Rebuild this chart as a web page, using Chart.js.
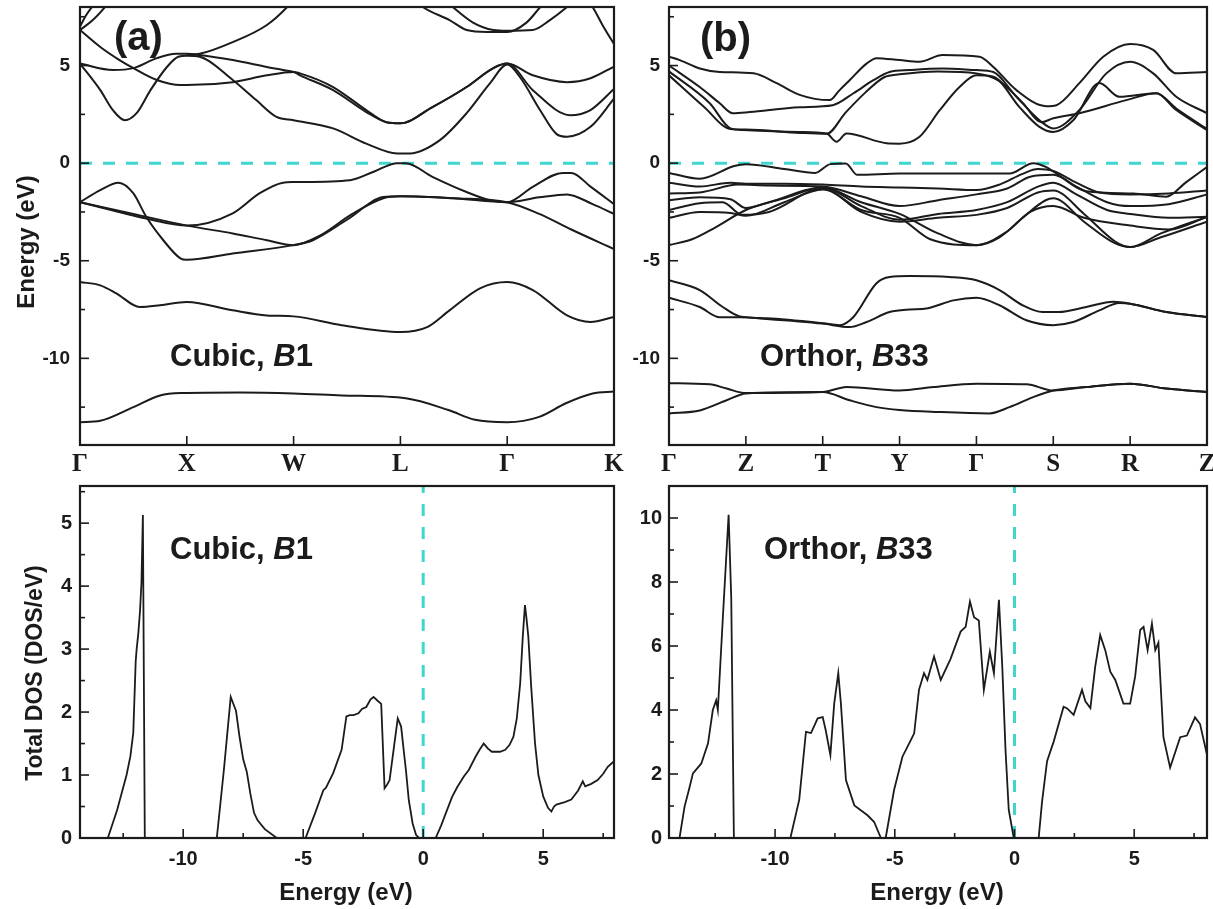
<!DOCTYPE html>
<html><head><meta charset="utf-8">
<script src="https://cdn.jsdelivr.net/npm/chart.js@4.4.1/dist/chart.umd.min.js"></script>
<style>
html,body{margin:0;padding:0;background:#fff;}
body{width:1213px;height:909px;position:relative;overflow:hidden;}
canvas{position:absolute;}
</style></head><body>
<canvas id="bandA" width="640" height="480" style="left:0;top:0;width:640px;height:480px"></canvas>
<canvas id="bandB" width="593" height="480" style="left:620px;top:0;width:593px;height:480px"></canvas>
<canvas id="dosA" width="640" height="429" style="left:0;top:480px;width:640px;height:429px"></canvas>
<canvas id="dosB" width="593" height="429" style="left:620px;top:480px;width:593px;height:429px"></canvas>
<script>
// ---------- tick labels / positions ----------
const kLabelsA = ['Γ','X','W','L','Γ','K'];
const kPosA = [0,1,2,3,4,5];
const kLabelsB = ['Γ','Z','T','Y','Γ','S','R','Z'];
const kPosB = [0,1,2,3,4,5,6,7];
const bandTicks = [-10,-5,0,5];
const bandMinor = [-12.5,-7.5,-2.5,2.5,7.5];
const dosTicksX = [-10,-5,0,5];
const dosMinorX = [-12.5,-7.5,-2.5,2.5,7.5];
const dosTicksYA = [0,1,2,3,4,5];
const dosMinorYA = [0.5,1.5,2.5,3.5,4.5,5.5];
const dosTicksYB = [0,2,4,6,8,10];
const dosMinorYB = [1,3,5,7,9];

// ---------- (a) cubic B1 bands: [k, E(eV)] ----------
const a_s   = [[0,-13.27],[0.19,-13.2],[0.5,-12.5],[0.75,-11.9],[0.95,-11.78],[1.5,-11.75],[2,-11.8],[2.45,-11.9],[3.05,-12.05],[3.45,-12.65],[3.7,-13.15],[4,-13.27],[4.3,-13.0],[4.55,-12.3],[4.8,-11.8],[5,-11.7]];
const a_d   = [[0,-6.09],[0.19,-6.26],[0.34,-6.67],[0.56,-7.37],[0.75,-7.28],[1,-7.11],[1.43,-7.54],[1.75,-7.8],[2,-7.85],[2.45,-8.3],[3,-8.65],[3.25,-8.4],[3.46,-7.54],[3.75,-6.4],[4,-6.09],[4.24,-6.5],[4.56,-7.8],[4.78,-8.14],[5,-7.88]];
const a_v1  = [[0,-2.0],[0.62,-2.84],[1,-3.2],[1.43,-2.57],[1.68,-1.55],[1.9,-1.0],[2,-0.97],[2.53,-0.87],[2.75,-0.44],[2.97,0],[3.05,0],[3.3,-0.7],[3.62,-1.48],[3.84,-1.9],[4,-2.0],[4.24,-1.21],[4.52,-0.5],[4.6,-0.5],[4.78,-1.2],[5,-2.1]];
const a_v2  = [[0,-2.0],[0.19,-1.38],[0.36,-1.0],[0.5,-1.55],[0.62,-2.75],[0.78,-3.95],[0.94,-4.88],[1,-4.95],[1.43,-4.63],[2,-4.2],[2.18,-3.95],[2.5,-2.9],[2.84,-1.74],[3,-1.7],[3.5,-1.8],[4,-2.0],[4.3,-1.75],[4.56,-1.6],[4.8,-2.1],[5,-2.6]];
const a_v3  = [[0,-2.0],[0.5,-2.6],[1,-3.2],[1.43,-3.6],[1.75,-3.95],[2,-4.2],[2.25,-3.7],[2.55,-2.6],[2.84,-1.8],[3,-1.7],[3.5,-1.8],[4,-2.0],[4.3,-2.6],[4.6,-3.4],[5,-4.4]];
const a_c1  = [[0,5.1],[0.19,3.74],[0.31,2.7],[0.42,2.2],[0.53,2.56],[0.66,3.74],[0.81,4.9],[0.92,5.45],[1,5.5],[1.12,5.45],[1.43,4.26],[1.65,3.23],[1.84,2.37],[2,2.2],[2.37,1.78],[2.68,1.0],[2.97,0.5],[3.09,0.5],[3.37,1.18],[3.62,2.56],[3.84,4.1],[4,5.05],[4.12,4.4],[4.31,2.7],[4.46,1.5],[4.56,1.35],[4.78,1.86],[5,3.3]];
const a_c2  = [[0,5.1],[0.31,4.77],[0.5,4.87],[0.72,5.38],[0.9,5.6],[1,5.6],[1.12,5.54],[1.43,5.28],[1.75,4.93],[2,4.67],[2.06,4.6],[2.37,3.9],[2.68,2.72],[2.87,2.1],[3,2.05],[3.3,2.87],[3.62,3.9],[3.87,4.87],[4,5.1],[4.24,3.74],[4.59,2.46],[4.78,2.72],[5,3.8]];
const a_c3  = [[0,6.82],[0.19,5.95],[0.37,5.28],[0.5,4.87],[0.72,4.26],[0.94,4.0],[1,4.0],[1.43,4.15],[1.75,4.5],[2,4.67],[2.06,4.5],[2.37,3.74],[2.68,2.62],[2.87,2.1],[3,2.05],[3.3,2.87],[3.62,3.9],[3.87,4.87],[4,5.1],[4.24,4.5],[4.56,4.15],[4.78,4.35],[5,4.95]];
const a_c4  = [[0,6.82],[0.12,7.33],[0.25,8.1],[0.32,8.6]];
const a_c5  = [[0,7.0],[0.06,7.6],[0.14,8.2],[0.2,8.6]];
const a_c6  = [[1,5.55],[1.12,5.6],[1.43,6.2],[1.75,7.08],[1.94,8.0],[2.0,8.4]];
const a_c7  = [[3.15,8.3],[3.21,8.0],[3.46,7.33],[3.62,6.82],[3.81,6.72],[4,6.72],[4.18,7.2],[4.31,8.0],[4.36,8.3]];
const a_c8  = [[3.43,8.3],[3.49,8.0],[3.68,7.2],[3.87,6.82],[4,6.78],[4.24,6.82],[4.4,7.33],[4.56,8.0],[4.62,8.3]];
const a_c9  = [[4.76,8.3],[4.8,8.0],[4.9,7.0],[5,6.1]];

// ---------- (b) orthorhombic B33 bands: [k, E(eV)] ----------
const b_s1  = [[0,-11.27],[0.53,-11.33],[0.75,-11.55],[1,-11.78],[2,-11.73],[2.31,-11.47],[3,-11.65],[3.44,-11.47],[4,-11.3],[4.65,-11.33],[5,-11.65],[5.43,-11.47],[6,-11.3],[6.47,-11.55],[7,-11.72]];
const b_s2  = [[0,-12.82],[0.4,-12.67],[0.75,-12.15],[1,-11.8],[2,-11.73],[2.35,-12.15],[2.7,-12.5],[3,-12.65],[3.5,-12.75],[4.17,-12.82],[4.43,-12.5],[4.73,-12.0],[5,-11.65],[5.43,-11.47],[6,-11.3],[6.47,-11.55],[7,-11.72]];
const b_d1  = [[0,-6.0],[0.4,-6.5],[0.7,-7.37],[0.92,-7.85],[1.27,-7.95],[2,-8.2],[2.22,-8.3],[2.4,-7.88],[2.7,-6.15],[2.87,-5.83],[3.13,-5.78],[3.65,-5.83],[4,-6.0],[4.3,-6.5],[4.6,-7.28],[4.86,-7.63],[5.07,-7.63],[5.43,-7.37],[5.78,-7.1],[6,-7.2],[6.47,-7.63],[7,-7.88]];
const b_d2  = [[0,-6.9],[0.4,-7.37],[0.66,-7.9],[0.92,-7.9],[1.27,-7.98],[2,-8.22],[2.35,-8.4],[2.57,-8.14],[2.87,-7.63],[3.13,-7.5],[3.35,-7.45],[3.7,-7.03],[4,-6.9],[4.3,-7.28],[4.65,-8.05],[5,-8.3],[5.26,-8.14],[5.6,-7.54],[5.86,-7.16],[6,-7.2],[6.47,-7.63],[7,-7.88]];
const b_v1  = [[0,-0.5],[0.4,-0.8],[0.85,-0.15],[1.0,-0.05],[1.5,-0.3],[1.9,-0.5],[2.1,-0.05],[2.3,-0.02],[2.45,-0.6],[3,-0.53],[3.5,-0.53],[4,-0.53],[4.43,-0.53],[4.74,0],[4.91,-0.2],[5.04,-0.53],[5.43,-1.44],[6.04,-1.55],[6.47,-1.72],[6.73,-0.97],[7,-0.2]];
const b_v2  = [[0,-1.0],[0.4,-1.2],[0.8,-1.0],[1.0,-1.05],[1.5,-1.05],[2,-1.1],[2.5,-1.2],[3,-1.25],[3.5,-1.3],[4,-1.38],[4.3,-1.1],[4.6,-0.55],[4.8,-0.3],[5.0,-0.4],[5.3,-1.0],[5.6,-1.5],[6,-1.6],[6.5,-1.55],[7,-1.4]];
const b_v3  = [[0,-1.55],[0.4,-1.5],[0.9,-1.1],[1.3,-1.15],[2,-1.2],[2.5,-1.7],[3,-2.2],[3.5,-1.9],[4,-1.6],[4.4,-1.3],[4.7,-0.7],[5.0,-0.6],[5.3,-1.2],[5.7,-2.0],[6,-2.2],[6.5,-2.1],[7,-1.6]];
const b_v4  = [[0,-1.9],[0.4,-1.75],[0.8,-1.85],[1.0,-2.3],[1.3,-2.0],[2,-1.25],[2.5,-2.2],[3,-2.9],[3.5,-2.6],[4,-2.4],[4.4,-2.0],[4.8,-1.2],[5.0,-1.0],[5.3,-1.6],[5.7,-2.4],[6,-2.6],[6.5,-2.8],[7,-2.75]];
const b_v5  = [[0,-2.4],[0.4,-2.05],[0.7,-2.0],[0.95,-2.65],[1.3,-2.5],[2,-1.3],[2.5,-2.5],[3,-3.0],[3.5,-2.8],[4,-2.65],[4.4,-2.3],[4.8,-1.5],[5.0,-1.4],[5.4,-2.6],[5.8,-4.0],[6,-4.3],[6.4,-3.6],[7,-2.75]];
const b_v6  = [[0,-2.8],[0.4,-2.5],[0.8,-2.55],[1.0,-2.7],[1.5,-2.0],[2,-1.35],[2.5,-2.4],[3,-2.8],[3.4,-3.9],[4,-4.2],[4.3,-3.8],[4.6,-2.8],[4.9,-1.9],[5.0,-1.8],[5.4,-3.0],[5.8,-4.1],[6,-4.3],[6.4,-3.8],[7,-3.0]];
const b_v7  = [[0,-4.2],[0.3,-3.9],[0.6,-3.3],[1,-2.4],[1.5,-1.8],[2,-1.25],[2.5,-2.0],[3,-2.6],[3.5,-3.6],[4,-4.2],[4.4,-3.5],[4.7,-2.5],[5.0,-2.2],[5.4,-2.8],[6,-3.2],[6.5,-3.4],[7,-2.75]];
const b_c1  = [[0,5.45],[0.14,5.28],[0.4,4.85],[0.66,4.67],[1.1,4.6],[1.4,4.1],[1.7,3.5],[2.09,3.23],[2.22,3.74],[2.35,4.25],[2.57,5.1],[2.7,5.38],[3,5.28],[3.26,5.2],[3.56,5.54],[4.04,5.45],[4.22,4.93],[4.52,3.74],[4.91,2.92],[5.04,2.97],[5.34,4.1],[5.65,5.45],[6,6.1],[6.3,5.8],[6.6,4.6],[7,4.67]];
const b_c2  = [[0,5.0],[0.4,3.9],[0.66,3.07],[0.83,2.56],[1.05,2.62],[1.7,2.87],[2.13,2.97],[2.4,3.58],[2.66,4.25],[2.87,4.67],[3.13,4.77],[3.56,4.85],[4,4.77],[4.22,4.67],[4.52,3.4],[4.82,2.2],[5,1.78],[5.34,2.72],[5.69,4.6],[6,5.2],[6.3,4.6],[6.6,3.4],[7,2.56]];
const b_c3  = [[0,4.7],[0.53,3.07],[0.8,1.78],[0.96,1.7],[1.7,1.6],[2.05,1.52],[2.18,1.1],[2.31,1.52],[2.83,1.02],[3,1.0],[3.26,1.35],[3.52,2.7],[3.78,3.9],[4,4.5],[4.22,4.43],[4.56,2.87],[4.82,1.86],[5,1.6],[5.26,2.2],[5.6,4.1],[5.86,3.4],[6.34,3.58],[6.6,2.72],[7,1.7]];
const b_c4  = [[0,4.5],[0.45,2.9],[0.8,1.75],[1,1.72],[1.7,1.55],[2.05,1.5],[2.3,2.6],[2.55,3.6],[2.8,4.4],[3,4.55],[3.5,4.7],[4,4.6],[4.3,4.2],[4.6,3.1],[4.85,2.1],[5.0,2.3],[5.34,2.56],[5.95,3.23],[6.34,3.58],[6.6,2.8],[7,1.75]];

// ---------- total DOS: [E(eV), DOS] ----------
const dosA = [[-14.3,0],[-13.14,0],[-12.75,0.45],[-12.36,1.0],[-12.2,1.3],[-12.08,1.67],[-11.98,2.8],[-11.94,3.0],[-11.87,3.25],[-11.8,3.6],[-11.74,4.05],[-11.68,5.13],[-11.6,0],
[-8.6,0],[-8.3,1.1],[-8.02,2.24],[-7.9,2.12],[-7.8,2.02],[-7.65,1.6],[-7.5,1.25],[-7.35,1.05],[-7.2,0.7],[-7.05,0.4],[-6.9,0.28],[-6.6,0.14],[-6.1,0],
[-4.9,0],[-4.5,0.4],[-4.16,0.76],[-4.05,0.8],[-3.75,1.03],[-3.4,1.4],[-3.2,1.93],[-3.06,1.95],[-2.9,1.95],[-2.7,1.98],[-2.55,2.05],[-2.37,2.08],[-2.2,2.2],[-2.07,2.24],[-1.9,2.18],[-1.75,2.13],[-1.61,0.79],[-1.5,0.85],[-1.4,0.92],[-1.2,1.5],[-1.06,1.9],[-0.92,1.77],[-0.8,1.35],[-0.72,1.08],[-0.6,0.6],[-0.44,0.23],[-0.3,0.05],[-0.17,0],
[0.52,0],[0.75,0.2],[0.94,0.39],[1.2,0.65],[1.42,0.81],[1.7,0.98],[1.9,1.08],[2.18,1.29],[2.35,1.4],[2.52,1.5],[2.7,1.42],[2.86,1.37],[3.2,1.37],[3.42,1.40],[3.6,1.48],[3.76,1.61],[3.9,1.9],[4.04,2.45],[4.15,3.2],[4.24,3.70],[4.3,3.5],[4.38,3.2],[4.5,2.4],[4.66,1.5],[4.8,1.0],[5.0,0.66],[5.2,0.48],[5.34,0.42],[5.45,0.5],[5.55,0.53],[5.9,0.57],[6.17,0.61],[6.45,0.75],[6.65,0.9],[6.75,0.82],[7.0,0.86],[7.27,0.92],[7.5,1.02],[7.69,1.13],[7.95,1.22]];
const dosB = [[-14.43,0],[-13.99,0],[-13.78,0.98],[-13.6,1.5],[-13.43,2.02],[-13.08,2.33],[-12.8,2.96],[-12.6,4.0],[-12.46,4.3],[-12.39,4.0],[-12.18,6.9],[-11.94,10.1],[-11.83,7.5],[-11.72,0],
[-9.36,0],[-8.99,1.2],[-8.71,3.32],[-8.5,3.28],[-8.22,3.74],[-8.01,3.78],[-7.88,3.35],[-7.69,2.59],[-7.53,4.2],[-7.36,5.15],[-7.25,4.2],[-7.04,1.81],[-6.69,1.02],[-6.14,0.71],[-5.86,0.5],[-5.58,0],
[-5.38,0],[-5.03,1.5],[-4.68,2.54],[-4.33,3.06],[-4.19,3.27],[-3.99,4.63],[-3.78,5.15],[-3.64,4.94],[-3.36,5.67],[-3.08,4.94],[-2.67,5.6],[-2.25,6.45],[-2.04,6.6],[-1.86,7.39],[-1.69,6.9],[-1.49,6.8],[-1.28,4.63],[-1.03,5.82],[-0.86,5.15],[-0.65,7.44],[-0.51,5.35],[-0.375,2.75],[-0.24,0.875],[-0.03,0],
[1.01,0],[1.15,1.13],[1.36,2.4],[1.64,3.02],[2.05,4.1],[2.2,4.05],[2.47,3.85],[2.82,4.63],[2.96,4.27],[3.17,4.06],[3.37,5.35],[3.58,6.34],[3.79,5.87],[4.0,5.2],[4.21,4.94],[4.55,4.2],[4.83,4.2],[5.04,5.05],[5.25,6.5],[5.39,6.6],[5.56,5.87],[5.74,6.7],[5.88,5.87],[6.01,6.1],[6.22,3.15],[6.5,2.2],[6.92,3.15],[7.2,3.2],[7.54,3.77],[7.75,3.56],[8.04,2.6]];

const bandsA = [a_s,a_d,a_v1,a_v2,a_v3,a_c1,a_c2,a_c3,a_c4,a_c5,a_c6,a_c7,a_c8,a_c9];
const bandsB = [b_s1,b_s2,b_d1,b_d2,b_v1,b_v2,b_v3,b_v4,b_v5,b_v6,b_v7,b_c1,b_c2,b_c3,b_c4];

// ---------- styling ----------
const SANS = '"Liberation Sans", Arial, Helvetica, sans-serif';
const SERIF = '"Liberation Serif", "Times New Roman", serif';
const INK = '#1b1b1b';
const CYAN = '#3fd6cf';

function drawRich(ctx, parts, x, y, size) {
  let cx = x;
  parts.forEach(p => {
    ctx.font = (p.i ? 'italic ' : '') + 'bold ' + size + 'px ' + SANS;
    ctx.fillText(p.t, cx, y);
    cx += ctx.measureText(p.t).width;
  });
}

const framePlugin = {
  id: 'frame',
  afterDraw(chart, args, o) {
    const ctx = chart.ctx, a = chart.chartArea, xs = chart.scales.x, ys = chart.scales.y;
    ctx.save();
    ctx.strokeStyle = INK; ctx.lineCap = 'butt';
    ctx.lineWidth = 1.6;
    const tk = (px, py, dx, dy) => { ctx.beginPath(); ctx.moveTo(px, py); ctx.lineTo(px + dx, py + dy); ctx.stroke(); };
    (o.xMajor || []).forEach(v => tk(xs.getPixelForValue(v), a.bottom, 0, -o.majorLen));
    (o.xMinor || []).forEach(v => tk(xs.getPixelForValue(v), a.bottom, 0, -o.minorLen));
    (o.yMajor || []).forEach(v => tk(a.left, ys.getPixelForValue(v), o.majorLen, 0));
    (o.yMinor || []).forEach(v => tk(a.left, ys.getPixelForValue(v), o.minorLen, 0));
    ctx.lineWidth = 2.2;
    ctx.strokeRect(a.left, a.top, a.right - a.left, a.bottom - a.top);
    ctx.fillStyle = INK;
    (o.notes || []).forEach(n => { ctx.textAlign = 'left'; ctx.textBaseline = 'alphabetic'; drawRich(ctx, n.parts, n.x - o.ox, n.y - o.oy, n.size); });
    (o.titles || []).forEach(t => {
      ctx.save();
      ctx.translate(t.x - o.ox, t.y - o.oy);
      if (t.rot) ctx.rotate(-Math.PI / 2);
      ctx.font = 'bold ' + t.size + 'px ' + SANS;
      ctx.textAlign = 'center'; ctx.textBaseline = 'middle';
      ctx.fillText(t.text, 0, 0);
      ctx.restore();
    });
    ctx.restore();
  }
};

const lineDS = (arr, smooth, w) => ({
  data: arr.map(([x, y]) => ({ x, y })), showLine: true, pointRadius: 0, borderColor: INK,
  borderWidth: w, fill: false, cubicInterpolationMode: smooth ? 'monotone' : 'default', tension: 0
});
const dashDS = (pts) => ({
  data: pts.map(([x, y]) => ({ x, y })), showLine: true, pointRadius: 0, borderColor: CYAN,
  borderWidth: 3, borderDash: [12, 11], fill: false
});

function makeChart(id, c) {
  return new Chart(document.getElementById(id), {
    type: 'scatter',
    data: { datasets: c.datasets },
    options: {
      responsive: false, animation: false, events: [],
      layout: { padding: c.pad },
      plugins: { legend: { display: false }, tooltip: { enabled: false }, frame: c.frame },
      scales: {
        x: {
          type: 'linear', min: c.xmin, max: c.xmax,
          afterBuildTicks: s => { s.ticks = c.xTicks.map(v => ({ value: v })); },
          afterFit: s => { s.height = c.xH; s.paddingLeft = 0; s.paddingRight = 0; },
          ticks: { autoSkip: false, maxRotation: 0, minRotation: 0, padding: c.xPad, color: INK, font: c.xFont, callback: c.xLabel },
          grid: { display: false, drawTicks: false }, border: { display: false }
        },
        y: {
          type: 'linear', min: c.ymin, max: c.ymax,
          afterBuildTicks: s => { s.ticks = c.yTicks.map(v => ({ value: v })); },
          afterFit: s => { s.width = c.yW; s.paddingTop = 0; s.paddingBottom = 0; },
          ticks: { autoSkip: false, padding: c.yPad, color: INK, font: { family: SANS, size: c.ySize, weight: 'bold' }, callback: v => String(v) },
          grid: { display: false, drawTicks: false }, border: { display: false }
        }
      }
    },
    plugins: [framePlugin]
  });
}

const B1 = [{ t: 'Cubic, ' }, { t: 'B', i: true }, { t: '1' }];
const B33 = [{ t: 'Orthor, ' }, { t: 'B', i: true }, { t: '33' }];

// (a) band structure
makeChart('bandA', {
  datasets: bandsA.map(b => lineDS(b, true, 2.0)).concat([dashDS([[0, 0], [5, 0]])]),
  pad: { left: 0, top: 7, right: 26, bottom: 0 },
  xmin: 0, xmax: 5, xTicks: kPosA, xH: 35, xPad: 5,
  xFont: { family: SERIF, size: 25, weight: 'bold' }, xLabel: (v, i) => kLabelsA[i],
  ymin: -14.44, ymax: 8, yTicks: bandTicks, yW: 80, yPad: 10, ySize: 19,
  frame: {
    ox: 0, oy: 0, majorLen: 9, minorLen: 5,
    xMajor: kPosA, yMajor: bandTicks, yMinor: bandMinor,
    notes: [{ parts: [{ t: '(a)' }], x: 114, y: 50, size: 40 }, { parts: B1, x: 170, y: 366, size: 31 }],
    titles: [{ text: 'Energy (eV)', x: 27, y: 242, size: 24, rot: true }]
  }
});

// (b) band structure
makeChart('bandB', {
  datasets: bandsB.map(b => lineDS(b, true, 2.0)).concat([dashDS([[0, 0], [7, 0]])]),
  pad: { left: 0, top: 7, right: 6, bottom: 0 },
  xmin: 0, xmax: 7, xTicks: kPosB, xH: 35, xPad: 5,
  xFont: { family: SERIF, size: 25, weight: 'bold' }, xLabel: (v, i) => kLabelsB[i],
  ymin: -14.44, ymax: 8, yTicks: bandTicks, yW: 49, yPad: 9, ySize: 19,
  frame: {
    ox: 620, oy: 0, majorLen: 9, minorLen: 5,
    xMajor: kPosB, yMajor: bandTicks, yMinor: bandMinor,
    notes: [{ parts: [{ t: '(b)' }], x: 700, y: 51, size: 40 }, { parts: B33, x: 760, y: 366, size: 31 }]
  }
});

// (a) total DOS
makeChart('dosA', {
  datasets: [lineDS(dosA, false, 1.8), dashDS([[0, 0], [0, 5.59]])],
  pad: { left: 0, top: 6, right: 26, bottom: 0 },
  xmin: -14.3, xmax: 7.95, xTicks: dosTicksX, xH: 71, xPad: 9,
  xFont: { family: SANS, size: 20, weight: 'bold' }, xLabel: v => String(v),
  ymin: 0, ymax: 5.59, yTicks: dosTicksYA, yW: 80, yPad: 8, ySize: 20,
  frame: {
    ox: 0, oy: 480, majorLen: 9, minorLen: 5,
    xMajor: dosTicksX, xMinor: dosMinorX, yMajor: dosTicksYA, yMinor: dosMinorYA,
    notes: [{ parts: B1, x: 170, y: 559, size: 31 }],
    titles: [{ text: 'Total DOS (DOS/eV)', x: 36, y: 673, size: 23, rot: true },
             { text: 'Energy (eV)', x: 346, y: 893, size: 24 }]
  }
});

// (b) total DOS
makeChart('dosB', {
  datasets: [lineDS(dosB, false, 1.8), dashDS([[0, 0], [0, 11]])],
  pad: { left: 0, top: 6, right: 6, bottom: 0 },
  xmin: -14.43, xmax: 8.04, xTicks: dosTicksX, xH: 71, xPad: 9,
  xFont: { family: SANS, size: 20, weight: 'bold' }, xLabel: v => String(v),
  ymin: 0, ymax: 11, yTicks: dosTicksYB, yW: 49, yPad: 7, ySize: 20,
  frame: {
    ox: 620, oy: 480, majorLen: 9, minorLen: 5,
    xMajor: dosTicksX, xMinor: dosMinorX, yMajor: dosTicksYB, yMinor: dosMinorYB,
    notes: [{ parts: B33, x: 764, y: 559, size: 31 }],
    titles: [{ text: 'Energy (eV)', x: 937, y: 893, size: 24 }]
  }
});
</script>
</body></html>
